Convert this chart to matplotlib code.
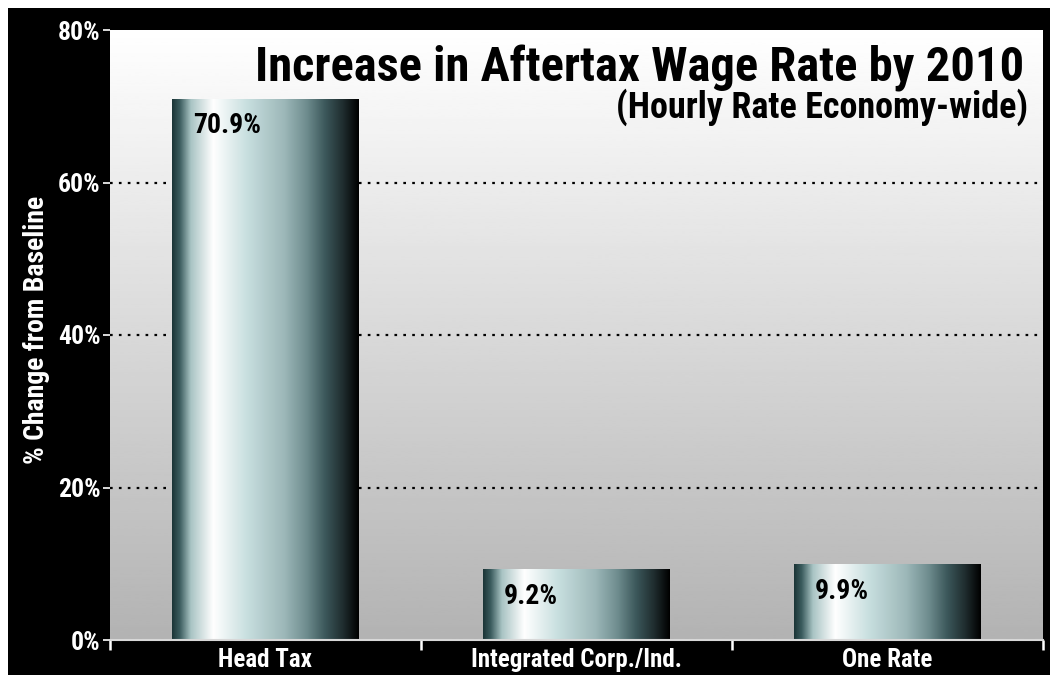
import numpy as np
import matplotlib
matplotlib.use("Agg")
import matplotlib.pyplot as plt
from matplotlib import font_manager as fm
from matplotlib.colors import LinearSegmentedColormap

categories = ["Head Tax", "Integrated Corp./Ind.", "One Rate"]
values = [70.9, 9.2, 9.9]
value_labels = ["70.9%", "9.2%", "9.9%"]
yticks = [0, 20, 40, 60, 80]
ytick_labels = ["0%", "20%", "40%", "60%", "80%"]
title = "Increase in Aftertax Wage Rate by 2010"
subtitle = "(Hourly Rate Economy-wide)"
ylabel = "% Change from Baseline"

# pick a condensed font if available
names = {f.name for f in fm.fontManager.ttflist}
cands = ["Roboto Condensed", "Liberation Sans Narrow", "Open Sans Condensed",
         "DejaVu Sans Condensed", "Noto Sans Condensed"]
fam = next((c for c in cands if c in names), "DejaVu Sans")
stretch = "condensed"
plt.rcParams["font.family"] = [fam, "DejaVu Sans"]

W, H = 1050, 675
PT = 0.72  # points per pixel at dpi 100
fig = plt.figure(figsize=(W / 100, H / 100), dpi=100, facecolor="white")
bgax = fig.add_axes([8 / W, 0, (W - 8) / W, (H - 8) / H], zorder=-5)
bgax.set_facecolor("black")
bgax.set_xticks([])
bgax.set_yticks([])
for s in bgax.spines.values():
    s.set_visible(False)

ax = fig.add_axes([110 / W, (H - 640) / H, (1043 - 110) / W, 610 / H], zorder=1)
ax.set_xlim(0, 3)
ax.set_ylim(0, 80)

# background vertical gradient
bg = np.linspace(0.70, 1.0, 256).reshape(-1, 1)
ax.imshow(bg, cmap="gray", vmin=0, vmax=1, extent=[0, 3, 0, 80],
          aspect="auto", origin="lower", zorder=0)

# grid
for y in yticks[1:-1]:
    ax.axhline(y, color="black", linestyle=(0, (1.2, 2.8)), linewidth=1.6, zorder=1)

# bar gradient colormap
bar_cmap = LinearSegmentedColormap.from_list("bar", [
    (0.00, "#1c3638"),
    (0.04, "#3b5c5e"),
    (0.10, "#a9c4c4"),
    (0.22, "#ffffff"),
    (0.40, "#c8dfdf"),
    (0.60, "#9db8b9"),
    (0.72, "#6f8d8f"),
    (0.82, "#3c585b"),
    (0.92, "#1e2b2d"),
    (1.00, "#000000"),
])
grad = np.linspace(0, 1, 256).reshape(1, -1)
bw = 0.6
bars = ax.bar(np.arange(3) + 0.5, values, width=bw, color="none", zorder=2)
for b, lab in zip(bars, value_labels):
    x0, h = b.get_x(), b.get_height()
    ax.imshow(grad, cmap=bar_cmap, extent=[x0, x0 + bw, 0, h],
              aspect="auto", zorder=2)
    ax.annotate(lab, xy=(x0, h), xytext=(21 * PT, -34 * PT),
                textcoords="offset points", ha="left", va="baseline",
                fontsize=20, fontweight="bold", fontstretch=stretch,
                color="black", zorder=3)

ax.set_xlim(0, 3)
ax.set_ylim(0, 80)

# axes styling
for s in ax.spines.values():
    s.set_visible(False)
ax.axhline(0, color="#d8d8d8", linewidth=1.5, zorder=4, clip_on=False)
ax.set_yticks(yticks)
ax.set_yticklabels(ytick_labels, fontsize=18.5, fontweight="bold",
                   fontstretch=stretch, color="white")
ax.tick_params(axis="y", length=5, width=1.2, color="white", pad=2)
ax.set_xticks([0, 1, 2, 3])
ax.set_xticklabels([])
ax.tick_params(axis="x", length=7, width=1.8, color="white", direction="out")
for i, c in enumerate(categories):
    ax.annotate(c, xy=(i + 0.5, 0), xytext=(0, -27 * PT),
                textcoords="offset points", ha="center", va="baseline",
                fontsize=18, fontweight="bold", fontstretch=stretch,
                color="white", annotation_clip=False)

fig.text(37 / W, 1 - 330 / H, ylabel, rotation=90, ha="center", va="center",
         fontsize=20, fontweight="bold", fontstretch=stretch, color="white")

ax.text((1024 - 110) / 933, (640 - 82) / 610, title, transform=ax.transAxes,
        ha="right", va="baseline", fontsize=35, fontweight="bold",
        fontstretch=stretch, color="black", zorder=5)
ax.text((1028 - 110) / 933, (640 - 118) / 610, subtitle, transform=ax.transAxes,
        ha="right", va="baseline", fontsize=26, fontweight="bold",
        fontstretch=stretch, color="black", zorder=5)

fig.savefig("out.png", dpi=100, facecolor="white")
